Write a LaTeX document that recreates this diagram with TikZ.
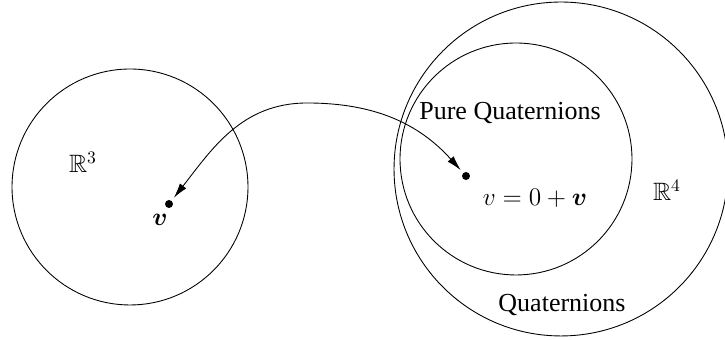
\documentclass[tikz,border=0pt]{standalone}
\usepackage[no-math]{fontspec}
\setmainfont{Liberation Serif}
\usepackage{amsmath,amssymb}
\usetikzlibrary{arrows.meta}

\begin{document}
\begin{tikzpicture}[
  x=0.02cm, y=0.02cm,
  font=\fontsize{14.3}{17}\selectfont,
  space/.style={draw, circle, inner sep=0pt, line width=0.5pt},
  point/.style={circle, fill, inner sep=0pt, minimum size=0.16cm},
  tag/.style={inner sep=1pt},
  words/.style={tag, font=\fontsize{14.8}{17}\selectfont},
  arrow/.style={{Latex[length=0.3cm,width=0.16cm]}-{Latex[length=0.3cm,width=0.16cm]}, line width=0.5pt, shorten <=2pt, shorten >=2pt}
]
\useasboundingbox (0,0) rectangle (725,340);

% Spaces
\node[space, minimum size=4.72cm] (r3) at (130,153) {};
\node[space, minimum size=6.68cm] (quat) at (561,171) {};
\node[space, minimum size=4.64cm] (pure) at (516,181) {};

% Labels
\node[tag] (r3lab) at (83,178) {$\mathbb{R}^3$};
\node[tag] (r4lab) at (667,150) {$\mathbb{R}^4$};
\node[words] (purelab) at (510,227) {Pure Quaternions};
\node[words] (quatlab) at (562,35) {Quaternions};

% Points
\node[point] (v3) at (169,136) {};
\node[point] (v4) at (466,164) {};
\node[tag] (v3lab) at (160,120) {$\boldsymbol{v}$};
\node[tag] (v4lab) at (535,142) {$v = 0 + \boldsymbol{v}$};
\coordinate (top) at (307,237);

% Map
\draw[arrow] (v3) to[out=52,in=180] (top) to[out=0,in=132] (v4);

\end{tikzpicture}
\end{document}
